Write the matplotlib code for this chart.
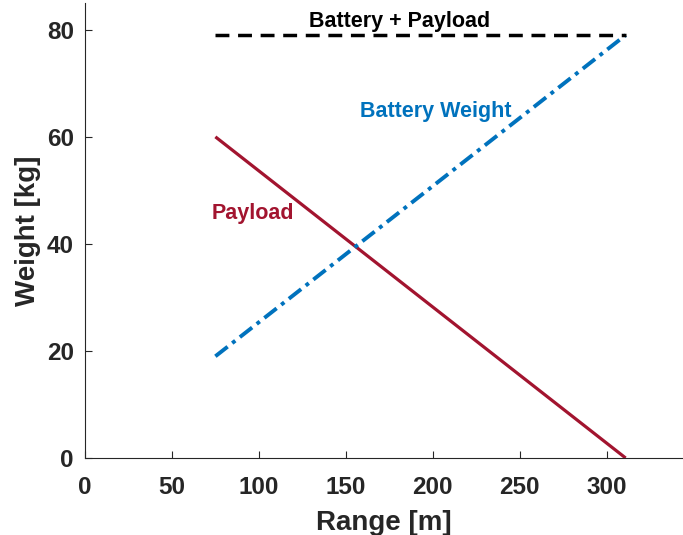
import matplotlib
matplotlib.use("Agg")
import matplotlib.pyplot as plt

range_m = [75, 311]
payload = [60, 0]
battery = [19, 79]
total = [79, 79]

plt.rcParams['font.family'] = ['Liberation Sans', 'DejaVu Sans']
plt.rcParams['font.weight'] = 'bold'

fig = plt.figure(figsize=(6.83, 5.35), dpi=100)
ax = fig.add_axes([85/683, 1-458/535, 1-85/683, 455/535])

ax.plot(range_m, payload, color='#A2142F', lw=2.3, solid_capstyle='butt')
ax.plot(range_m, battery, color='#0072BD', lw=2.8, linestyle=(0, (4, 1.5, 1, 1.5)))
ax.plot(range_m, total, color='black', lw=2.5, linestyle=(0, (4, 2.5)))

ax.text(181, 81.6, 'Battery + Payload', color='black', fontsize=15.5, fontweight='bold', ha='center', va='center')
ax.text(202, 64.8, 'Battery Weight', color='#0072BD', fontsize=15.5, fontweight='bold', ha='center', va='center')
ax.text(96.5, 45.6, 'Payload', color='#A2142F', fontsize=15.5, fontweight='bold', ha='center', va='center')

ax.set_xlim(0, 344)
ax.set_ylim(0, 85)
ax.set_xticks([0, 50, 100, 150, 200, 250, 300])
ax.set_yticks([0, 20, 40, 60, 80])
ax.spines['top'].set_visible(False)
ax.spines['right'].set_visible(False)
for s in ['left', 'bottom']:
    ax.spines[s].set_color('#262626')
    ax.spines[s].set_linewidth(0.8)
ax.tick_params(direction='in', length=5, width=0.8, colors='#262626', labelsize=17.5)
ax.tick_params(axis='x', pad=13)
ax.tick_params(axis='y', pad=8)
for lab in ax.get_xticklabels() + ax.get_yticklabels():
    lab.set_fontweight('bold')
ax.set_xlabel('Range [m]', fontsize=20, fontweight='bold', color='#262626', labelpad=8)
ax.set_ylabel('Weight [kg]', fontsize=20, fontweight='bold', color='#262626', labelpad=4)

fig.savefig('out.png', dpi=100)
